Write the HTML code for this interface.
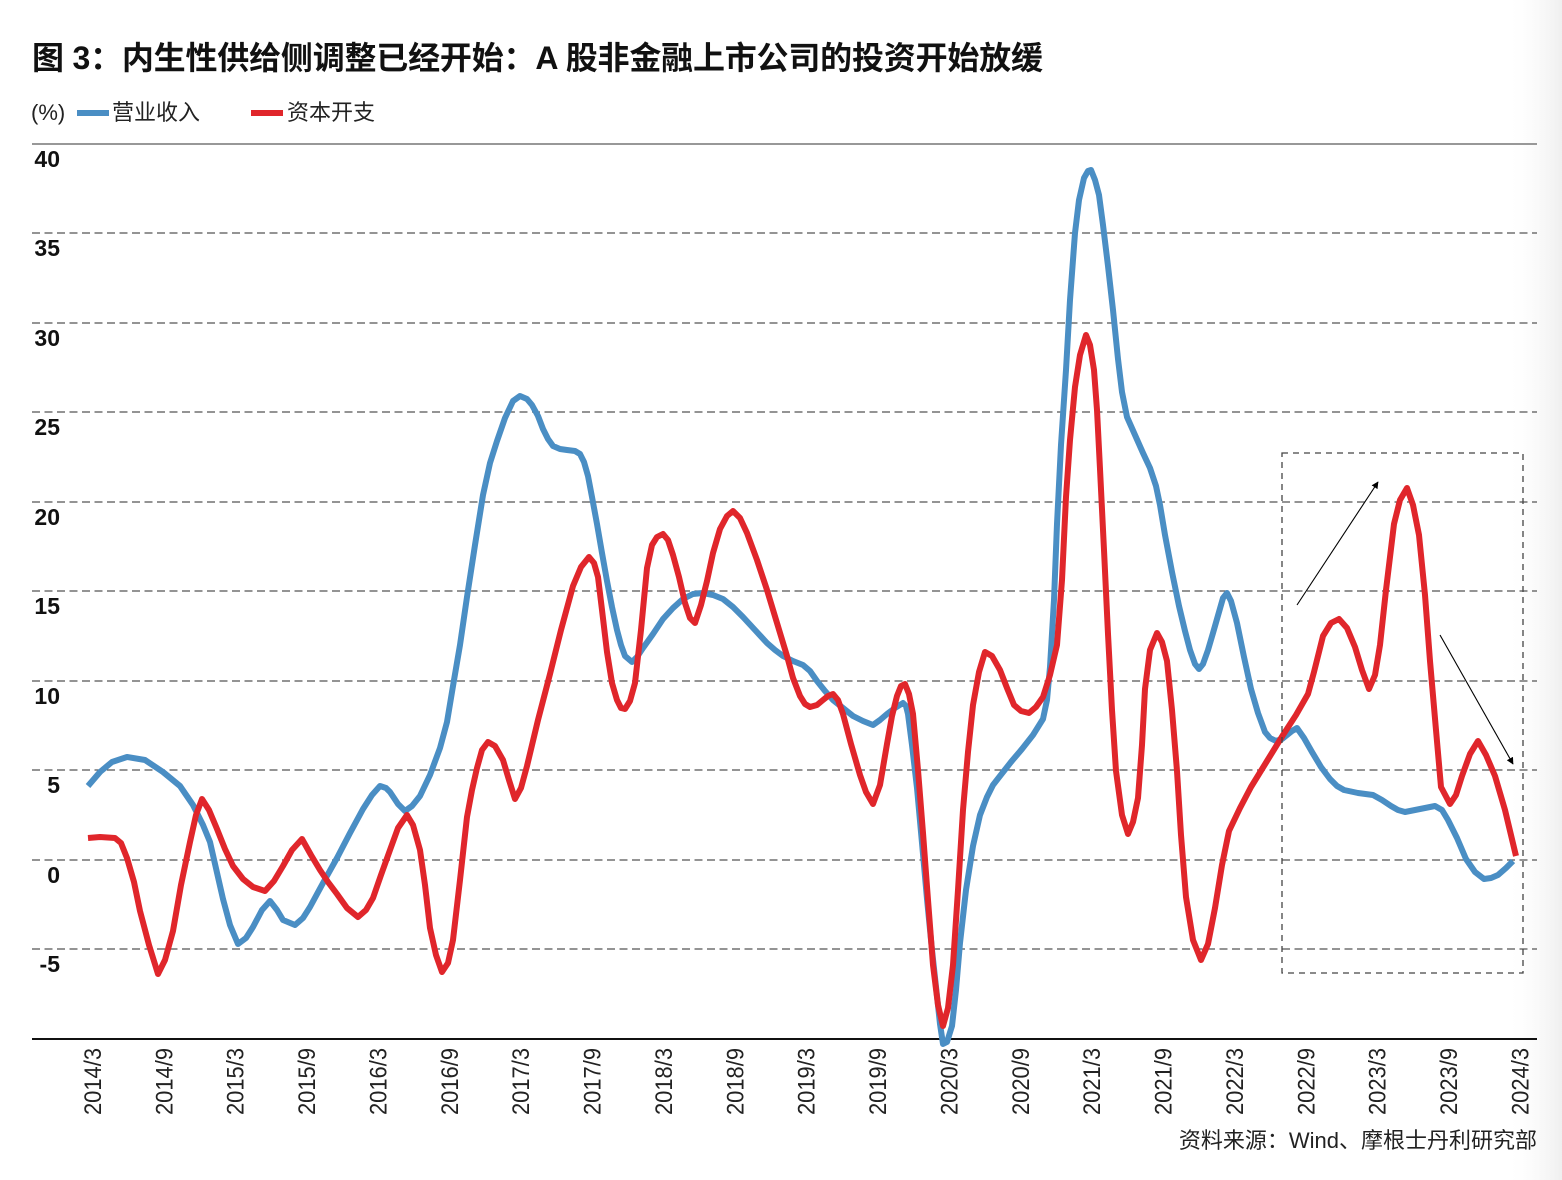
<!DOCTYPE html>
<html>
<head>
<meta charset="utf-8">
<style>
html,body{margin:0;padding:0;background:#fff;}
body{width:1562px;height:1180px;overflow:hidden;}
svg{display:block;}
</style>
</head>
<body>
<svg width="1562" height="1180" viewBox="0 0 1562 1180" xmlns="http://www.w3.org/2000/svg">
<defs>
<linearGradient id="edge" x1="0" y1="0" x2="1" y2="0">
<stop offset="0" stop-color="#ffffff" stop-opacity="0"/>
<stop offset="1" stop-color="#efefef" stop-opacity="1"/>
</linearGradient>
<marker id="ah" viewBox="0 0 10 10" refX="9" refY="5" markerWidth="7" markerHeight="7" orient="auto" markerUnits="userSpaceOnUse">
<path d="M0,0 L10,5 L0,10 z" fill="#000"/>
</marker>
</defs>
<rect x="0" y="0" width="1562" height="1180" fill="#fff"/>
<rect x="1505" y="0" width="57" height="1180" fill="url(#edge)"/>

<!-- Title -->
<text x="32" y="69" font-family="'Liberation Sans','Noto Sans CJK SC',sans-serif" font-size="32" font-weight="bold" fill="#111" textLength="1011" lengthAdjust="spacing">图 3：内生性供给侧调整已经开始：A 股非金融上市公司的投资开始放缓</text>

<!-- Legend -->
<g font-family="'Liberation Sans','Noto Sans CJK SC',sans-serif" font-size="22" fill="#222">
<text x="31" y="120">(%)</text>
<rect x="77" y="110" width="32" height="6" fill="#4a8ec4"/>
<text x="112" y="120">营业收入</text>
<rect x="251" y="110" width="32" height="6" fill="#e0262b"/>
<text x="287" y="120">资本开支</text>
</g>

<!-- Grid -->
<line x1="32" y1="144" x2="1537" y2="144" stroke="#777" stroke-width="1.5"/>
<g stroke="#555" stroke-width="1.3" stroke-dasharray="8,4.5">
<line x1="32" y1="233" x2="1537" y2="233"/>
<line x1="32" y1="323" x2="1537" y2="323"/>
<line x1="32" y1="412" x2="1537" y2="412"/>
<line x1="32" y1="502" x2="1537" y2="502"/>
<line x1="32" y1="591" x2="1537" y2="591"/>
<line x1="32" y1="681" x2="1537" y2="681"/>
<line x1="32" y1="770" x2="1537" y2="770"/>
<line x1="32" y1="860" x2="1537" y2="860"/>
<line x1="32" y1="949" x2="1537" y2="949"/>
</g>
<line x1="32" y1="1039" x2="1537" y2="1039" stroke="#111" stroke-width="2"/>

<!-- Y labels -->
<g font-family="'Liberation Sans',sans-serif" font-size="23" font-weight="bold" fill="#111" text-anchor="end">
<text x="60" y="167">40</text>
<text x="60" y="256">35</text>
<text x="60" y="346">30</text>
<text x="60" y="435">25</text>
<text x="60" y="525">20</text>
<text x="60" y="614">15</text>
<text x="60" y="704">10</text>
<text x="60" y="793">5</text>
<text x="60" y="883">0</text>
<text x="60" y="972">-5</text>
</g>

<!-- X labels -->
<g font-family="'Liberation Sans',sans-serif" font-size="24" fill="#222" text-anchor="end">
<text transform="translate(101,1048) rotate(-90)" textLength="67" lengthAdjust="spacingAndGlyphs">2014/3</text>
<text transform="translate(172.4,1048) rotate(-90)" textLength="67" lengthAdjust="spacingAndGlyphs">2014/9</text>
<text transform="translate(243.7,1048) rotate(-90)" textLength="67" lengthAdjust="spacingAndGlyphs">2015/3</text>
<text transform="translate(315.1,1048) rotate(-90)" textLength="67" lengthAdjust="spacingAndGlyphs">2015/9</text>
<text transform="translate(386.5,1048) rotate(-90)" textLength="67" lengthAdjust="spacingAndGlyphs">2016/3</text>
<text transform="translate(457.9,1048) rotate(-90)" textLength="67" lengthAdjust="spacingAndGlyphs">2016/9</text>
<text transform="translate(529.2,1048) rotate(-90)" textLength="67" lengthAdjust="spacingAndGlyphs">2017/3</text>
<text transform="translate(600.6,1048) rotate(-90)" textLength="67" lengthAdjust="spacingAndGlyphs">2017/9</text>
<text transform="translate(672,1048) rotate(-90)" textLength="67" lengthAdjust="spacingAndGlyphs">2018/3</text>
<text transform="translate(743.3,1048) rotate(-90)" textLength="67" lengthAdjust="spacingAndGlyphs">2018/9</text>
<text transform="translate(814.7,1048) rotate(-90)" textLength="67" lengthAdjust="spacingAndGlyphs">2019/3</text>
<text transform="translate(886.1,1048) rotate(-90)" textLength="67" lengthAdjust="spacingAndGlyphs">2019/9</text>
<text transform="translate(957.4,1048) rotate(-90)" textLength="67" lengthAdjust="spacingAndGlyphs">2020/3</text>
<text transform="translate(1028.8,1048) rotate(-90)" textLength="67" lengthAdjust="spacingAndGlyphs">2020/9</text>
<text transform="translate(1100.2,1048) rotate(-90)" textLength="67" lengthAdjust="spacingAndGlyphs">2021/3</text>
<text transform="translate(1171.6,1048) rotate(-90)" textLength="67" lengthAdjust="spacingAndGlyphs">2021/9</text>
<text transform="translate(1242.9,1048) rotate(-90)" textLength="67" lengthAdjust="spacingAndGlyphs">2022/3</text>
<text transform="translate(1314.3,1048) rotate(-90)" textLength="67" lengthAdjust="spacingAndGlyphs">2022/9</text>
<text transform="translate(1385.7,1048) rotate(-90)" textLength="67" lengthAdjust="spacingAndGlyphs">2023/3</text>
<text transform="translate(1457,1048) rotate(-90)" textLength="67" lengthAdjust="spacingAndGlyphs">2023/9</text>
<text transform="translate(1528.4,1048) rotate(-90)" textLength="67" lengthAdjust="spacingAndGlyphs">2024/3</text>
</g>

<!-- Blue series: 营业收入 -->
<polyline fill="none" stroke="#4a8ec4" stroke-width="6" stroke-linejoin="round" stroke-linecap="butt" points="
88,786 100,772 112,762 127,757 145,760 163,772 180,786 193,805 203,825 210,842 223,899 230,925 238,944 246,938 253,927 262,910 270,901 277,910 283,920 295,925 303,918 310,907 323,883 337,858 350,833 363,809 372,795 380,786 386,788 390,792 398,804 405,811 412,806 420,796 430,775 440,748 447,722 453,686 460,645 467,597 475,545 483,495 490,463 497,441 505,418 513,401 520,396 527,399 532,405 538,416 543,429 548,439 553,446 560,449 567,450 575,451 580,454 584,462 588,476 592,497 597,524 602,553 607,581 612,607 617,630 621,645 625,656 632,662 637,657 643,648 653,634 663,619 673,608 683,599 693,594 703,593 713,595 723,599 733,607 743,617 755,630 767,643 775,650 783,656 793,661 803,665 810,671 817,681 825,691 833,700 843,708 853,716 863,721 873,725 880,720 887,714 895,708 903,703 906,706 908,714 912,745 917,788 922,843 927,899 932,950 937,996 940,1024 943,1044 947,1042 952,1026 956,990 960,943 966,890 973,846 980,815 987,797 993,785 1000,776 1011,762 1022,749 1033,735 1043,719 1047,700 1050,667 1054,600 1057,524 1061,445 1066,370 1070,300 1075,233 1079,200 1084,178 1088,171 1091,170 1095,180 1099,195 1103,225 1108,266 1113,310 1118,359 1122,392 1127,417 1135,435 1143,453 1150,468 1156,486 1160,505 1165,535 1172,572 1179,606 1185,631 1190,650 1195,664 1199,669 1203,664 1208,650 1213,633 1219,612 1223,598 1227,593 1231,601 1237,623 1244,657 1251,689 1258,713 1265,732 1270,738 1276,741 1282,739 1287,735 1292,731 1297,728 1304,738 1312,752 1321,767 1330,779 1337,786 1344,790 1358,793 1373,795 1382,800 1391,806 1398,810 1405,812 1420,809 1435,806 1442,810 1448,820 1457,838 1466,859 1475,872 1484,879 1491,878 1498,875 1506,868 1513,861"/>

<!-- Red series: 资本开支 -->
<polyline fill="none" stroke="#e0262b" stroke-width="6" stroke-linejoin="round" stroke-linecap="butt" points="
88,838 100,837 115,838 121,843 127,858 134,882 140,911 149,945 158,974 165,960 173,931 181,885 190,842 196,815 202,799 209,810 217,829 225,849 233,866 243,879 253,887 265,891 274,881 283,866 292,850 302,839 311,855 320,870 328,882 337,894 347,908 358,917 366,910 373,898 381,875 390,850 398,828 407,815 413,825 420,850 425,885 430,928 436,955 442,972 448,963 453,940 460,880 467,817 472,790 477,768 482,750 488,742 495,746 503,760 509,780 515,799 521,788 527,766 538,720 550,674 561,630 573,586 581,567 589,557 594,563 598,577 602,610 607,652 612,683 617,700 621,708 625,709 630,701 635,683 641,630 647,568 652,545 657,537 663,534 668,540 673,555 679,577 685,603 690,618 695,623 701,605 707,581 713,553 720,529 727,516 733,511 740,518 747,533 757,560 767,590 777,623 787,656 793,678 800,696 805,704 810,707 817,705 823,700 828,696 833,694 838,700 843,714 851,744 860,775 866,792 873,804 880,785 887,744 892,716 897,696 901,686 905,684 909,694 913,714 918,770 923,833 928,900 933,965 938,1005 943,1026 948,1008 953,965 958,890 963,810 968,752 973,705 979,672 985,652 992,656 1000,670 1007,688 1014,705 1021,711 1029,713 1036,707 1043,697 1050,675 1057,645 1062,580 1066,497 1070,440 1075,387 1080,355 1086,335 1090,345 1094,370 1097,410 1100,469 1104,550 1108,634 1112,710 1116,771 1122,815 1128,834 1133,822 1138,798 1142,745 1145,689 1150,650 1157,633 1162,642 1167,661 1172,710 1177,771 1181,835 1186,897 1193,940 1201,960 1208,944 1215,908 1222,865 1229,831 1240,808 1251,787 1267,761 1283,735 1296,715 1308,694 1314,672 1323,636 1331,623 1339,619 1347,628 1355,647 1362,670 1369,689 1375,675 1380,645 1386,590 1394,524 1400,500 1407,488 1413,505 1419,535 1425,595 1430,661 1436,730 1441,787 1450,804 1456,795 1462,776 1470,754 1478,741 1486,755 1495,776 1505,810 1516,856"/>

<!-- Highlight box and arrows -->
<rect x="1282" y="453" width="241" height="520" fill="none" stroke="#444" stroke-width="1.3" stroke-dasharray="6,5"/>
<line x1="1297" y1="605" x2="1378" y2="482" stroke="#000" stroke-width="1.1" marker-end="url(#ah)"/>
<line x1="1440" y1="635" x2="1513" y2="764" stroke="#000" stroke-width="1.1" marker-end="url(#ah)"/>

<!-- Source -->
<text x="1537" y="1148" text-anchor="end" font-family="'Liberation Sans','Noto Sans CJK SC',sans-serif" font-size="22" fill="#222">资料来源：Wind、摩根士丹利研究部</text>
</svg>
</body>
</html>
